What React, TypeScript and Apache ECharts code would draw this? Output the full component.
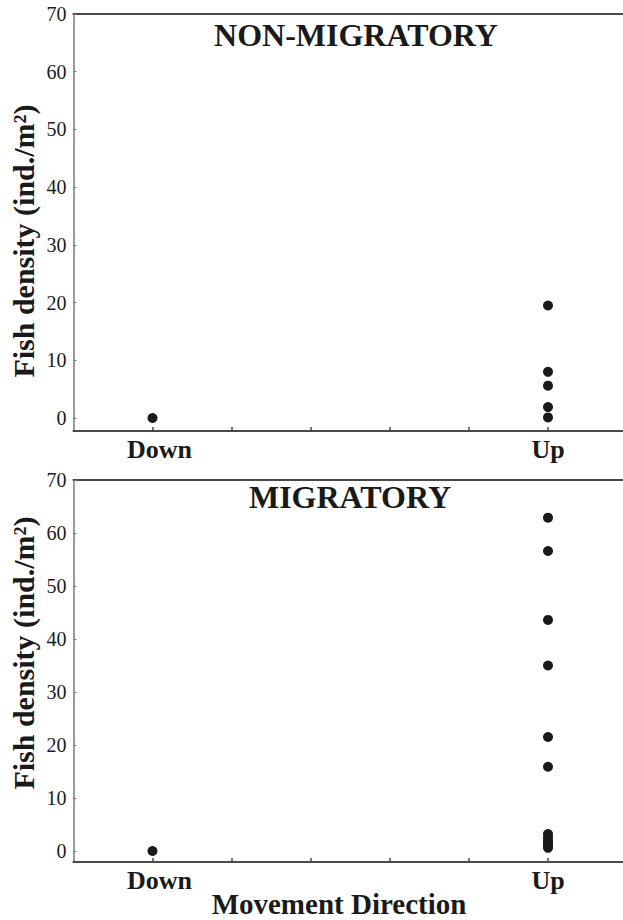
import React, { useEffect, useRef } from "react";
import * as echarts from "echarts";

// Movement direction categories and their slot on the x scale (0..7)
const directions = ["Down", "Up"];
const directionSlots = [1, 6];
const xTickSlots = [1, 2, 3, 4, 5, 6];

// Fish density (ind./m²) per sample
const nonMigratoryDown = [0];
const nonMigratoryUp = [19.5, 8.0, 5.6, 1.9, 0.1];
const migratoryDown = [0];
const migratoryUp = [62.9, 56.6, 43.6, 35.0, 21.5, 15.9, 3.2, 2.6, 2.0, 1.5, 1.0, 0.6];

const yTicks = [0, 10, 20, 30, 40, 50, 60, 70];

const FONT = "'Liberation Serif', 'Times New Roman', serif";
const INK = "#1a1a1a";

function toPoints(down: number[], up: number[]) {
  return [
    ...down.map((v) => [directionSlots[0], v]),
    ...up.map((v) => [directionSlots[1], v]),
  ];
}

export default function App() {
  const ref = useRef<HTMLDivElement>(null);

  useEffect(() => {
    if (!ref.current) return;
    const chart = echarts.init(ref.current, null, { renderer: "svg" });

    const xBottom = (gridIndex: number) => ({
      type: "value",
      gridIndex,
      min: 0,
      max: 7,
      position: "bottom",
      splitLine: { show: false },
      axisLine: { show: true, onZero: false, lineStyle: { color: "#4a4a4a", width: 2 } },
      axisTick: {
        show: true,
        inside: true,
        length: 4,
        customValues: xTickSlots,
        lineStyle: { color: "#4a4a4a", width: 1.5 },
      },
      axisLabel: {
        show: true,
        customValues: directionSlots,
        formatter: (v: number) => {
          const i = directionSlots.indexOf(v);
          return i === 0 ? `{first|${directions[i]}}` : `{rest|${directions[i] ?? ""}}`;
        },
        rich: {
          first: {
            fontFamily: FONT,
            fontWeight: "bold",
            fontSize: 26,
            color: INK,
            padding: [0, 0, 0, 14],
          },
          rest: { fontFamily: FONT, fontWeight: "bold", fontSize: 26, color: INK },
        },
        fontFamily: FONT,
        fontWeight: "bold",
        fontSize: 26,
        color: INK,
        margin: 5,
      },
    });

    const xTop = (gridIndex: number) => ({
      type: "value",
      gridIndex,
      min: 0,
      max: 7,
      position: "top",
      splitLine: { show: false },
      axisLine: { show: true, onZero: false, lineStyle: { color: "#4a4a4a", width: 2 } },
      axisTick: { show: false },
      axisLabel: { show: false },
    });

    const yAxis = (gridIndex: number, min: number) => ({
      type: "value",
      gridIndex,
      min,
      max: 70,
      splitLine: { show: false },
      axisLine: { show: true, onZero: false, lineStyle: { color: "#9a9a9a", width: 2 } },
      axisTick: {
        show: true,
        inside: true,
        length: 3,
        customValues: yTicks,
        lineStyle: { color: "#777", width: 1 },
      },
      axisLabel: {
        show: true,
        customValues: yTicks,
        fontFamily: FONT,
        fontSize: 20,
        color: INK,
        margin: 7,
      },
    });

    const titleText = (text: string, x: number, y: number, size: number) => ({
      type: "text",
      x,
      y,
      style: {
        text,
        fontFamily: FONT,
        fontWeight: "bold",
        fontSize: size,
        fill: INK,
        textAlign: "center",
        textVerticalAlign: "middle",
      },
    });

    const yName = (y: number) => ({
      type: "text",
      x: 23,
      y,
      rotation: Math.PI / 2,
      style: {
        text: "Fish density (ind./m²)",
        fontFamily: FONT,
        fontWeight: "bold",
        fontSize: 30,
        fill: INK,
        textAlign: "center",
        textVerticalAlign: "middle",
      },
    });

    chart.setOption({
      animation: false,
      backgroundColor: "#ffffff",
      grid: [
        { left: 73.4, top: 14, width: 553.7, height: 417, outerBoundsMode: "none" },
        { left: 73.4, top: 480, width: 553.7, height: 382, outerBoundsMode: "none" },
      ],
      xAxis: [xBottom(0), xBottom(1), xTop(0), xTop(1)],
      yAxis: [yAxis(0, -2.25), yAxis(1, -2.08)],
      series: [
        {
          type: "scatter",
          xAxisIndex: 0,
          yAxisIndex: 0,
          symbol: "circle",
          symbolSize: 10,
          itemStyle: { color: INK, opacity: 1 },
          data: toPoints(nonMigratoryDown, nonMigratoryUp),
        },
        {
          type: "scatter",
          xAxisIndex: 1,
          yAxisIndex: 1,
          symbol: "circle",
          symbolSize: 10,
          itemStyle: { color: INK, opacity: 1 },
          data: toPoints(migratoryDown, migratoryUp),
        },
      ],
      graphic: [
        titleText("NON-MIGRATORY", 356, 35, 32),
        titleText("MIGRATORY", 350, 497, 32),
        titleText("Movement Direction", 339, 904, 29),
        yName(241),
        yName(653),
      ],
    });

    return () => chart.dispose();
  }, []);

  return (
    <div
      ref={ref}
      style={{ position: "absolute", left: 0, top: 0, width: 623, height: 920 }}
    />
  );
}
